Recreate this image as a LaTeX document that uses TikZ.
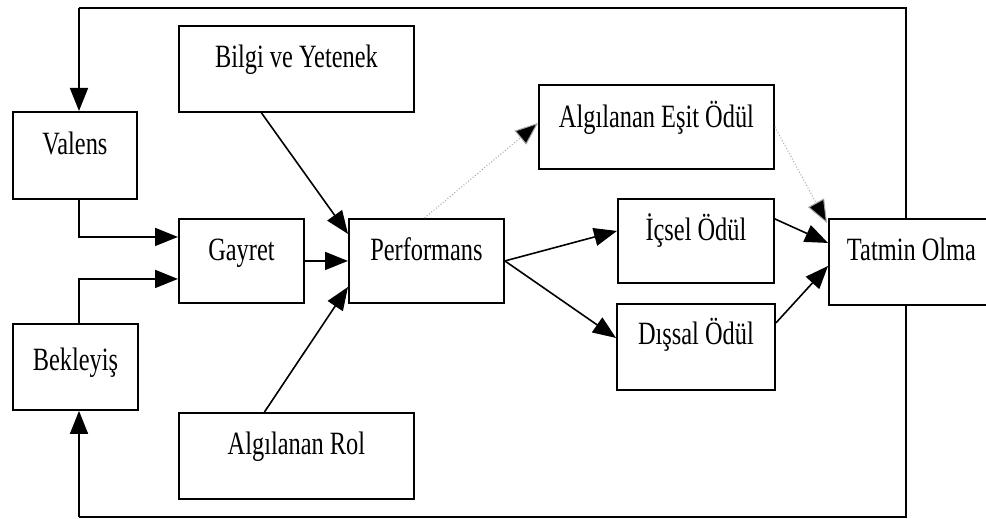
\documentclass[tikz,border=0pt]{standalone}
\usepackage{fontspec}
\setmainfont{Liberation Serif}[FakeStretch=0.75]
\usetikzlibrary{arrows.meta}
\begin{document}
\begin{tikzpicture}[x=1pt,y=-1pt,
  box/.style={draw, line width=1.9pt, inner sep=0pt, anchor=north west,
    fill=white, font=\fontsize{32.5}{35}\selectfont},
  dims/.style n args={3}{minimum width=#1pt, text height=#3pt, text depth=#2pt-#3pt},
  link/.style={line width=1.6pt, -{Triangle[length=23pt,width=18pt]}},
  faint/.style={line width=1pt, draw=black!35, dotted,
    -{Triangle[length=23pt,width=18pt,fill=black]}}]
  \fill[white] (0,0) rectangle (986,519);
  \useasboundingbox (0,0) rectangle (986,519);

  % corners of the feedback loop
  \coordinate (tl) at (79,8);
  \coordinate (tr) at (906,8);
  \coordinate (bl) at (79,517);
  \coordinate (br) at (906,517);

  % loop behind the Tatmin box
  \draw[line width=1.6pt] (tr |- 0,218) -- (tr) -- (tl);
  \draw[line width=1.6pt] (br |- 0,304) -- (br) -- (bl);

  \node[box, dims={124}{87}{43}] (valens) at (12,111) {Valens};
  \node[box, dims={235}{86}{42}] (bilgi) at (178,25) {Bilgi ve Yetenek};
  \node[box, dims={125}{84}{42}] (gayret) at (178,218) {Gayret};
  \node[box, dims={155}{84}{42}] (perf) at (348,218) {Performans};
  \node[box, dims={235}{86}{42}] (rol) at (178,412) {Algılanan Rol};
  \node[box, dims={125}{86}{47}] (bekleyis) at (12,323) {Bekleyiş};
  \node[box, dims={235}{84}{43}] (esit) at (538,84) {Algılanan Eşit Ödül};
  \node[box, dims={156}{84}{42}] (icsel) at (617,198) {İçsel Ödül};
  \node[box, dims={158}{86}{41}] (dissal) at (616,303) {Dışsal Ödül};
  \node[box, dims={165}{86}{42}] (tatmin) at (828,218) {Tatmin Olma};

  % feedback arrows into Valens and Bekleyiş
  \draw[link] (tl) -- (tl |- valens.north);
  \draw[link] (bl) -- (bl |- bekleyis.south);

  % inputs to Gayret
  \draw[link] (tl |- valens.south) |- ([yshift=24pt]gayret.west);
  \draw[link] (bl |- bekleyis.north) |- ([yshift=-18pt]gayret.west);

  % inputs to Performans
  \draw[link] (gayret.east) -- (perf.west);
  \draw[link] ([xshift=-35pt]bilgi.south) -- ([yshift=27pt]perf.west);
  \draw[link] ([xshift=-32pt]rol.north) -- ([yshift=-26pt]perf.west);

  % rewards
  \draw[faint] ([xshift=-2pt]perf.north) -- ([yshift=4pt]esit.west);
  \draw[link] (perf.east) -- ([yshift=10pt]icsel.west);
  \draw[link] (perf.east) -- ([yshift=9pt]dissal.west);

  % into Tatmin Olma
  \draw[faint] (esit.east) -- ([yshift=-5pt,xshift=-1pt]tatmin.north west);
  \draw[link] ([yshift=22pt]icsel.east) -- ([yshift=19pt]tatmin.west);
  \draw[link] ([yshift=24pt]dissal.east) -- ([yshift=-4pt]tatmin.west);
\end{tikzpicture}
\end{document}
